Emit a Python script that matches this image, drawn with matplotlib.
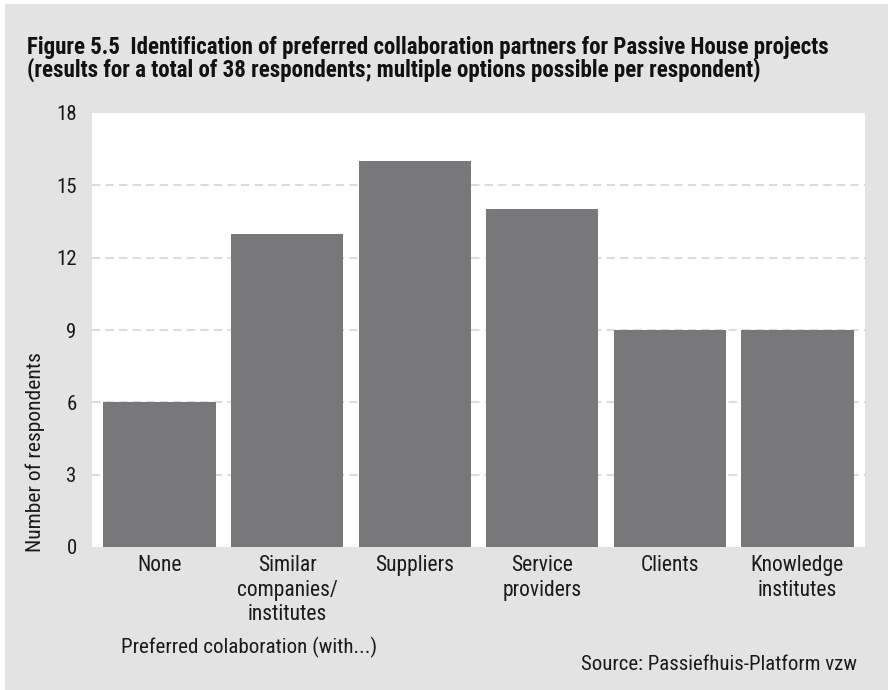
import matplotlib.pyplot as plt
from matplotlib.patches import Rectangle
from matplotlib import font_manager

categories = ["None", "Similar\ncompanies/\ninstitutes", "Suppliers", "Service\nproviders",
              "Clients", "Knowledge\ninstitutes"]
values = [6, 13, 16, 14, 9, 9]
yticks = [0, 3, 6, 9, 12, 15, 18]

# pick a narrow font if there is one
names = {f.name for f in font_manager.fontManager.ttflist}
fam = "DejaVu Sans"
for n in ["Liberation Sans Narrow", "Roboto Condensed", "Open Sans Condensed", "DejaVu Sans Condensed",
          "Noto Sans Display", "Open Sans", "Lato"]:
    if n in names:
        fam = n
        break
plt.rcParams['font.family'] = [fam, 'DejaVu Sans']

W, H = 888, 690
fig = plt.figure(figsize=(W / 100, H / 100), dpi=100, facecolor="white")
fig.patches.append(Rectangle((5 / W, 0), 1 - 5 / W, (H - 4) / H, transform=fig.transFigure,
                             facecolor="#e2e3e2", edgecolor="none", zorder=-10))

ax = fig.add_axes([92 / W, 1 - 547 / H, (865 - 92) / W, (547 - 113) / H])
ax.set_facecolor("white")
x = range(len(values))
ax.bar(x, values, width=0.88, color="#78787a", zorder=3)
ax.set_xlim(-0.53, len(values) - 0.47)
ax.set_ylim(0, 18)
ax.set_yticks(yticks)
ax.set_xticks(list(x))
ax.set_xticklabels(categories, fontsize=15.5, color="#1a1a1a", linespacing=1.2)
ax.tick_params(axis="y", labelsize=15, colors="#1a1a1a", length=0, pad=11)
ax.tick_params(axis="x", length=0, pad=6)
for s in ax.spines.values():
    s.set_visible(False)
for t in yticks[1:-1]:
    ax.axhline(t, color="#dcdcdc", lw=1.5, ls=(0, (4, 2.5)), zorder=1)

renderer = fig.canvas.get_renderer()

yl = ax.set_ylabel("Number of respondents", fontsize=15, color="#1a1a1a")
ax.yaxis.set_label_coords(-0.061, (547 - 452) / 434)
h = yl.get_window_extent(renderer).height
yl.set_fontsize(15 * 200 / h)


def fit_text(xp, yp, s, width_px, size, **kw):
    t = fig.text(xp / W, 1 - yp / H, s, fontsize=size, va="baseline", **kw)
    w = t.get_window_extent(renderer).width
    t.set_fontsize(size * width_px / w)
    return t


fit_text(27, 54, "Figure 5.5  Identification of preferred collaboration partners for Passive House projects",
         803, 15.5, fontweight="bold", color="#111111")
fit_text(27, 77, "(results for a total of 38 respondents; multiple options possible per respondent)",
         737, 15.5, fontweight="bold", color="#111111")
fit_text(121, 653, "Preferred colaboration (with...)", 256, 15, color="#1a1a1a")
fit_text(857, 670, "Source: Passiefhuis-Platform vzw", 276, 15, color="#1a1a1a", ha="right")

fig.savefig("out.png", dpi=100, facecolor=fig.get_facecolor())
